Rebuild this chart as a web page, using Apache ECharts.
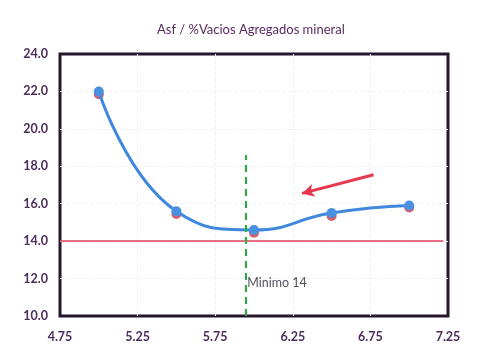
<!DOCTYPE html>
<html>
<head>
<meta charset="utf-8">
<script src="https://cdn.jsdelivr.net/npm/echarts@6/dist/echarts.min.js"></script>
<style>
  html, body { margin: 0; padding: 0; background: #ffffff; }
  #chart { width: 478px; height: 349px; }
</style>
</head>
<body>
<div id="chart"></div>
<script>
// Asphalt content (%) vs. voids in mineral aggregate (%)
const asphalt = [5.0, 5.5, 6.0, 6.5, 7.0];
const vmaMeasured = [21.85, 15.45, 14.45, 15.35, 15.8];
const vmaCurve = [22.0, 15.6, 14.6, 15.5, 15.9];
const xTicks = [4.75, 5.25, 5.75, 6.25, 6.75, 7.25];
const yTicks = [10, 12, 14, 16, 18, 20, 22, 24];
const minimumVMA = 14;
const optimumAsphalt = 5.95;
const optimumLineTop = 18.6;
const arrowFrom = [6.77, 17.55];
const arrowTo = [6.31, 16.55];
const minLabel = 'Minimo 14';

const labelColor = '#4b2d5c';
const font = 'Lato, "Open Sans", sans-serif';

const chart = echarts.init(document.getElementById('chart'));
chart.setOption({
  backgroundColor: '#ffffff',
  animation: false,
  title: {
    text: 'Asf / %Vacios Agregados mineral',
    left: 152,
    top: 18,
    textStyle: {
      fontFamily: font,
      fontSize: 13,
      fontWeight: 'normal',
      color: '#5a2a62'
    }
  },
  grid: {
    left: 60, right: 30, top: 54, bottom: 33,
    show: true,
    borderColor: '#27152d',
    borderWidth: 3,
    backgroundColor: 'transparent'
  },
  xAxis: {
    type: 'value',
    min: xTicks[0],
    max: xTicks[xTicks.length - 1],
    interval: xTicks[1] - xTicks[0],
    axisLine: { show: false },
    axisTick: { show: false },
    splitLine: {
      show: true, showMinLine: false, showMaxLine: false,
      lineStyle: { color: '#efeff4', type: 'dashed', width: 1 }
    },
    axisLabel: {
      margin: 14,
      formatter: v => v.toFixed(2),
      fontFamily: font,
      fontSize: 12.5,
      fontWeight: 'bold',
      color: labelColor
    }
  },
  yAxis: {
    type: 'value',
    min: yTicks[0],
    max: yTicks[yTicks.length - 1],
    interval: yTicks[1] - yTicks[0],
    axisLine: { show: false },
    axisTick: { show: false },
    splitLine: {
      show: true, showMinLine: false, showMaxLine: false,
      lineStyle: { color: '#efeff4', type: 'dashed', width: 1 }
    },
    axisLabel: {
      margin: 12,
      formatter: v => v.toFixed(1),
      fontFamily: font,
      fontSize: 12.5,
      fontWeight: 'bold',
      color: labelColor
    }
  },
  series: [
    {
      // minimum VMA reference line
      type: 'line',
      data: [],
      silent: true,
      markLine: {
        silent: true,
        symbol: 'none',
        label: { show: false },
        data: [
          [
            { coord: [xTicks[0], minimumVMA] },
            { coord: [7.22, minimumVMA] }
          ]
        ],
        lineStyle: { color: '#e0405a', width: 1.5, type: 'solid' }
      }
    },
    {
      // optimum asphalt content
      type: 'line',
      data: [],
      silent: true,
      markLine: {
        silent: true,
        symbol: 'none',
        label: { show: false },
        data: [
          [
            { coord: [optimumAsphalt, yTicks[0]] },
            { coord: [optimumAsphalt, optimumLineTop] }
          ]
        ],
        lineStyle: { color: '#22b03a', width: 2, type: [7, 5] }
      }
    },
    {
      type: 'line',
      data: [],
      silent: true,
      markLine: {
        silent: true,
        symbol: ['arrow', 'none'],
        symbolSize: [10, 12],
        label: { show: false },
        data: [
          [
            { coord: arrowTo },
            { coord: arrowFrom }
          ]
        ],
        lineStyle: { color: '#e8364c', width: 3, type: 'solid' }
      }
    },
    {
      type: 'scatter',
      data: [[optimumAsphalt, 11.75]],
      symbolSize: 0,
      silent: true,
      label: {
        show: true,
        position: 'right',
        distance: 1,
        formatter: minLabel,
        fontFamily: font,
        fontSize: 12.5,
        color: '#2a2034'
      }
    },
    {
      // measured points
      type: 'scatter',
      data: asphalt.map((x, i) => [x, vmaMeasured[i]]),
      symbol: 'circle',
      symbolSize: 10,
      itemStyle: { color: '#c8384e' },
      z: 3
    },
    {
      // smoothed trend through the points
      type: 'line',
      data: asphalt.map((x, i) => [x, vmaCurve[i]]),
      smooth: 0.5,
      symbol: 'circle',
      symbolSize: 10,
      lineStyle: { color: '#3f88dc', width: 3 },
      itemStyle: { color: '#4a90e0' },
      z: 4
    }
  ]
});
</script>
</body>
</html>
